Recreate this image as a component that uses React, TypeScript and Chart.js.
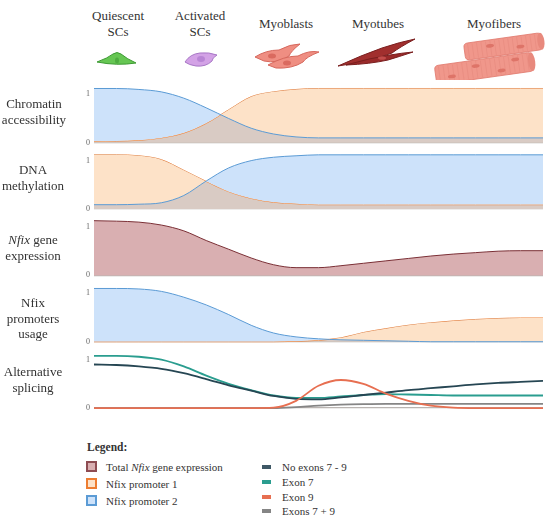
import React, { useEffect, useRef } from "react";
import { Chart, registerables } from "chart.js";

Chart.register(...registerables);

// ---------- data (x = differentiation progress, 0..100) ----------
const progress = [0, 5, 10, 15, 20, 25, 30, 35, 40, 45, 50, 55, 60, 65, 70, 75, 80, 85, 90, 95, 100];

const chromatinPromoter2 = [1.12, 1.12, 1.1, 1.05, 0.92, 0.72, 0.5, 0.3, 0.18, 0.12, 0.1, 0.1, 0.1, 0.1, 0.1, 0.1, 0.1, 0.1, 0.1, 0.1, 0.1];
const chromatinPromoter1 = [0.03, 0.035, 0.05, 0.1, 0.2, 0.4, 0.68, 0.95, 1.05, 1.1, 1.12, 1.12, 1.12, 1.12, 1.12, 1.12, 1.12, 1.12, 1.12, 1.12, 1.12];

const methylationPromoter2 = [0.09, 0.09, 0.1, 0.13, 0.28, 0.58, 0.85, 1.0, 1.07, 1.1, 1.12, 1.12, 1.12, 1.12, 1.12, 1.12, 1.12, 1.12, 1.12, 1.12, 1.12];
const methylationPromoter1 = [1.12, 1.12, 1.1, 1.02, 0.8, 0.57, 0.36, 0.22, 0.14, 0.11, 0.09, 0.09, 0.09, 0.09, 0.09, 0.09, 0.09, 0.09, 0.09, 0.09, 0.09];

const totalExpression = [1.13, 1.12, 1.1, 1.04, 0.92, 0.72, 0.54, 0.36, 0.22, 0.16, 0.16, 0.2, 0.25, 0.3, 0.35, 0.4, 0.44, 0.47, 0.5, 0.51, 0.51];

const usagePromoter2 = [1.1, 1.1, 1.09, 1.04, 0.92, 0.76, 0.56, 0.34, 0.18, 0.1, 0.06, 0.04, 0.03, 0.02, 0.01, 0, 0, 0, 0, 0, 0];
const usagePromoter1 = [0, 0, 0, 0, 0, 0, 0, 0, 0, 0.01, 0.03, 0.08, 0.19, 0.27, 0.34, 0.39, 0.43, 0.46, 0.48, 0.49, 0.49];

const spliceNoExons = [0.9, 0.89, 0.86, 0.81, 0.72, 0.6, 0.47, 0.36, 0.25, 0.19, 0.18, 0.22, 0.27, 0.32, 0.37, 0.41, 0.45, 0.49, 0.52, 0.54, 0.56];
const spliceExon7 = [1.08, 1.08, 1.06, 1.0, 0.86, 0.67, 0.5, 0.37, 0.26, 0.21, 0.21, 0.24, 0.27, 0.29, 0.28, 0.27, 0.26, 0.26, 0.26, 0.26, 0.26];
const spliceExon9 = [0, 0, 0, 0, 0, 0, 0, 0, 0.01, 0.15, 0.46, 0.58, 0.5, 0.3, 0.15, 0.05, 0.01, 0, 0, 0, 0];
const spliceExons79 = [0, 0, 0, 0, 0, 0, 0, 0, 0, 0.02, 0.05, 0.07, 0.08, 0.085, 0.085, 0.085, 0.085, 0.085, 0.085, 0.085, 0.085];

const tickValues = [0, 1];

// ---------- styles ----------
const FONT = "'Liberation Serif', 'DejaVu Serif', serif";
const BLUE_LINE = "#5b9bd5";
const BLUE_FILL = "#cde2fa";
const ORANGE_LINE = "#ed7d31";
const ORANGE_FILL = "#fde2c8";
const TAUPE = "#d9cbc4";
const RED_LINE = "#7b3036";
const RED_FILL = "#d9afb1";
const C_DARK = "#264653";
const C_TEAL = "#2a9d8f";
const C_RED = "#e76f51";
const C_GRAY = "#858585";

const pts = (ys: number[]) => progress.map((x, i) => ({ x, y: ys[i] }));

const panelAxis = () => ({
  type: "linear" as const,
  position: "left" as const,
  stack: "panels",
  stackWeight: 1,
  min: -0.05,
  max: 1.32,
  afterBuildTicks: (s: any) => {
    s.ticks = tickValues.map((v) => ({ value: v }));
  },
  afterFit: (s: any) => {
    s.width = 14;
  },
  border: { display: false },
  grid: {
    drawTicks: false,
    lineWidth: 1.2,
    color: (ctx: any) => (ctx.tick && ctx.tick.value === 0 ? "#b9b4b1" : "rgba(0,0,0,0)"),
  },
  ticks: {
    padding: 4,
    color: "#666",
    font: { family: FONT, size: 8 },
  },
});

function T({ x, y, children, size = 13, align = "center", bold = false }: any) {
  return (
    <div
      style={{
        position: "absolute",
        left: x,
        top: y,
        transform: align === "center" ? "translate(-50%, -50%)" : "translate(0, -50%)",
        whiteSpace: "nowrap",
        fontSize: size,
        fontWeight: bold ? "bold" : "normal",
        lineHeight: 1,
        textAlign: "center",
      }}
    >
      {children}
    </div>
  );
}

function Cells() {
  return (
    <svg width={550} height={80} style={{ position: "absolute", left: 0, top: 0 }}>
      {/* quiescent SC */}
      <path d="M97,62 Q108,58 113,54 Q117,51 121,54 Q127,59 136,63 Q117,66 97,62 Z" fill="#66c653" stroke="#3d9a33" strokeWidth={1} />
      <ellipse cx={117} cy={60.5} rx={2} ry={3} fill="#4eac40" />
      {/* activated SC */}
      <path d="M185,62 Q190,54 200,53 Q209,52 217,55 Q212,58 212,61 Q206,67 196,66 Q189,65 185,62 Z" fill="#d3a2e6" stroke="#a877c6" strokeWidth={1} />
      <ellipse cx={201} cy={59} rx={4} ry={3} fill="#b985d5" />
      {/* myoblasts */}
      <path d="M255,57 Q266,50 279,50 Q290,44 300,44 Q291,51 289,56 Q277,64 264,61 Z" fill="#ef8e82" stroke="#d6685d" strokeWidth={1} />
      <path d="M268,65 Q284,56 298,56 Q309,50 319,52 Q306,57 303,62 Q292,69 276,68 Z" fill="#ef8e82" stroke="#d6685d" strokeWidth={1} />
      <ellipse cx={272} cy={56} rx={4} ry={2.5} fill="#da6a5f" />
      <ellipse cx={287} cy={63} rx={4} ry={2.5} fill="#da6a5f" />
      {/* myotubes */}
      <path d="M338,66 Q362,55 382,48 Q400,42 415,39 Q400,47 392,53 Q372,61 338,66 Z" fill="#a12f2e" stroke="#7a1f1f" strokeWidth={1} />
      <path d="M346,65 Q370,58 390,55 Q402,53 413,52 Q398,57 388,60 Q370,64 346,65 Z" fill="#9a2a2a" stroke="#7a1f1f" strokeWidth={1} />
      <ellipse cx={382} cy={58} rx={4} ry={1.8} fill="#c24c4a" />
      {/* myofibers */}
      <g transform="translate(0 5) rotate(-8 490 55)">
        <rect x={466} y={35} width={78} height={17} rx={4} fill="#f0978b" stroke="#e07a6e" strokeWidth={0.8} />
        <ellipse cx={543} cy={43.5} rx={3.5} ry={8.5} fill="#e8897d" />
        <rect x={434} y={53} width={98} height={19} rx={4} fill="#f0978b" stroke="#e07a6e" strokeWidth={0.8} />
        <ellipse cx={531} cy={62.5} rx={3.5} ry={9.5} fill="#e8897d" />
        {[0, 1, 2, 3, 4, 5, 6, 7, 8, 9, 10, 11, 12, 13, 14, 15].map((i) => (
          <line key={"a" + i} x1={470 + i * 4.5} y1={36} x2={470 + i * 4.5} y2={51} stroke="#e5887c" strokeWidth={0.5} />
        ))}
        {[0, 1, 2, 3, 4, 5, 6, 7, 8, 9, 10, 11, 12, 13, 14, 15, 16, 17, 18, 19].map((i) => (
          <line key={"b" + i} x1={438 + i * 4.7} y1={54} x2={438 + i * 4.7} y2={71} stroke="#e5887c" strokeWidth={0.5} />
        ))}
        <ellipse cx={450} cy={66} rx={4} ry={1.8} fill="#de7468" />
        <ellipse cx={475} cy={59} rx={4} ry={1.8} fill="#de7468" />
        <ellipse cx={500} cy={67} rx={4} ry={1.8} fill="#de7468" />
        <ellipse cx={515} cy={58} rx={4} ry={1.8} fill="#de7468" />
        <ellipse cx={492} cy={41} rx={4} ry={1.8} fill="#de7468" />
        <ellipse cx={522} cy={46} rx={4} ry={1.8} fill="#de7468" />
      </g>
    </svg>
  );
}

function SquareSwatch({ y, fill, stroke }: any) {
  return (
    <div
      style={{
        position: "absolute",
        left: 86,
        top: y - 5.5,
        width: 7,
        height: 7,
        background: fill,
        border: `2px solid ${stroke}`,
      }}
    />
  );
}

function BarSwatch({ y, color }: any) {
  return <div style={{ position: "absolute", left: 262, top: y - 2, width: 9, height: 4, background: color }} />;
}

export default function App() {
  const ref = useRef<HTMLCanvasElement>(null);

  useEffect(() => {
    if (!ref.current) return;
    const line = { pointRadius: 0, cubicInterpolationMode: "monotone" as const, tension: 0.4 };
    const chart = new Chart(ref.current, {
      type: "line",
      data: {
        datasets: [
          // panel 1: chromatin accessibility
          { ...line, label: "Chromatin P2", data: pts(chromatinPromoter2), yAxisID: "p1", borderColor: BLUE_LINE, borderWidth: 1, fill: { target: "+1", above: BLUE_FILL, below: ORANGE_FILL } },
          { ...line, label: "Chromatin P1", data: pts(chromatinPromoter1), yAxisID: "p1", borderColor: ORANGE_LINE, borderWidth: 1, fill: { target: "origin", above: TAUPE, below: TAUPE } },
          // panel 2: DNA methylation
          { ...line, label: "Methylation P2", data: pts(methylationPromoter2), yAxisID: "p2", borderColor: BLUE_LINE, borderWidth: 1, fill: { target: "+1", above: BLUE_FILL, below: ORANGE_FILL } },
          { ...line, label: "Methylation P1", data: pts(methylationPromoter1), yAxisID: "p2", borderColor: ORANGE_LINE, borderWidth: 1, fill: { target: "origin", above: TAUPE, below: TAUPE } },
          // panel 3: Nfix gene expression
          { ...line, label: "Total Nfix", data: pts(totalExpression), yAxisID: "p3", borderColor: RED_LINE, borderWidth: 1, fill: { target: "origin", above: RED_FILL, below: RED_FILL } },
          // panel 4: promoter usage
          { ...line, label: "Usage P2", data: pts(usagePromoter2), yAxisID: "p4", borderColor: BLUE_LINE, borderWidth: 1, fill: { target: "+1", above: BLUE_FILL, below: ORANGE_FILL } },
          { ...line, label: "Usage P1", data: pts(usagePromoter1), yAxisID: "p4", borderColor: ORANGE_LINE, borderWidth: 1, fill: { target: "origin", above: TAUPE, below: TAUPE } },
          // panel 5: alternative splicing
          { ...line, label: "Exon 9", data: pts(spliceExon9), yAxisID: "p5", borderColor: C_RED, borderWidth: 1.8, fill: false },
          { ...line, label: "No exons 7 - 9", data: pts(spliceNoExons), yAxisID: "p5", borderColor: C_DARK, borderWidth: 1.8, fill: false },
          { ...line, label: "Exon 7", data: pts(spliceExon7), yAxisID: "p5", borderColor: C_TEAL, borderWidth: 1.8, fill: false },
          { ...line, label: "Exons 7 + 9", data: pts(spliceExons79), yAxisID: "p5", borderColor: C_GRAY, borderWidth: 1.8, fill: false },
        ],
      },
      options: {
        animation: false,
        responsive: false,
        maintainAspectRatio: false,
        layout: { padding: { left: 80, right: 7, top: 5.5, bottom: 9.5 } },
        plugins: { legend: { display: false }, tooltip: { enabled: false } },
        events: [],
        scales: {
          x: { type: "linear", min: 0, max: 100, display: false },
          // stacked scales are laid out bottom-up in definition order
          p5: panelAxis(),
          p4: panelAxis(),
          p3: panelAxis(),
          p2: panelAxis(),
          p1: panelAxis(),
        } as any,
      },
    });
    return () => chart.destroy();
  }, []);

  return (
    <div
      style={{
        position: "fixed",
        left: 0,
        top: 0,
        width: 550,
        height: 525,
        background: "#fff",
        fontFamily: FONT,
        color: "#333",
      }}
    >
      <Cells />
      <canvas ref={ref} width={550} height={350} style={{ position: "absolute", left: 0, top: 70, width: 550, height: 350 }} />

      {/* stage headers */}
      <T x={118} y={15}>Quiescent</T>
      <T x={118} y={31}>SCs</T>
      <T x={200} y={15}>Activated</T>
      <T x={200} y={31}>SCs</T>
      <T x={286} y={23}>Myoblasts</T>
      <T x={378} y={23}>Myotubes</T>
      <T x={494} y={23}>Myofibers</T>

      {/* panel labels */}
      <T x={34} y={103}>Chromatin</T>
      <T x={34} y={119}>accessibility</T>
      <T x={33} y={169}>DNA</T>
      <T x={33} y={185}>methylation</T>
      <T x={33} y={239}><i>Nfix</i> gene</T>
      <T x={33} y={255}>expression</T>
      <T x={33} y={302}>Nfix</T>
      <T x={33} y={318}>promoters</T>
      <T x={33} y={333}>usage</T>
      <T x={33} y={371}>Alternative</T>
      <T x={33} y={387}>splicing</T>

      {/* legend */}
      <T x={87} y={448} size={11.5} align="left" bold>Legend:</T>
      <SquareSwatch y={466} fill={RED_FILL} stroke="#8e4c52" />
      <SquareSwatch y={483} fill={ORANGE_FILL} stroke={ORANGE_LINE} />
      <SquareSwatch y={500.5} fill={BLUE_FILL} stroke={BLUE_LINE} />
      <T x={106} y={467} size={11} align="left">Total <i>Nfix</i> gene expression</T>
      <T x={106} y={484} size={11} align="left">Nfix promoter 1</T>
      <T x={106} y={501} size={11} align="left">Nfix promoter 2</T>

      <BarSwatch y={467.3} color="#3f5866" />
      <BarSwatch y={482.3} color={C_TEAL} />
      <BarSwatch y={496.7} color={C_RED} />
      <BarSwatch y={510.7} color={C_GRAY} />
      <T x={282} y={467} size={11} align="left">No exons 7 - 9</T>
      <T x={282} y={482} size={11} align="left">Exon 7</T>
      <T x={282} y={496.5} size={11} align="left">Exon 9</T>
      <T x={282} y={510.5} size={11} align="left">Exons 7 + 9</T>
    </div>
  );
}
